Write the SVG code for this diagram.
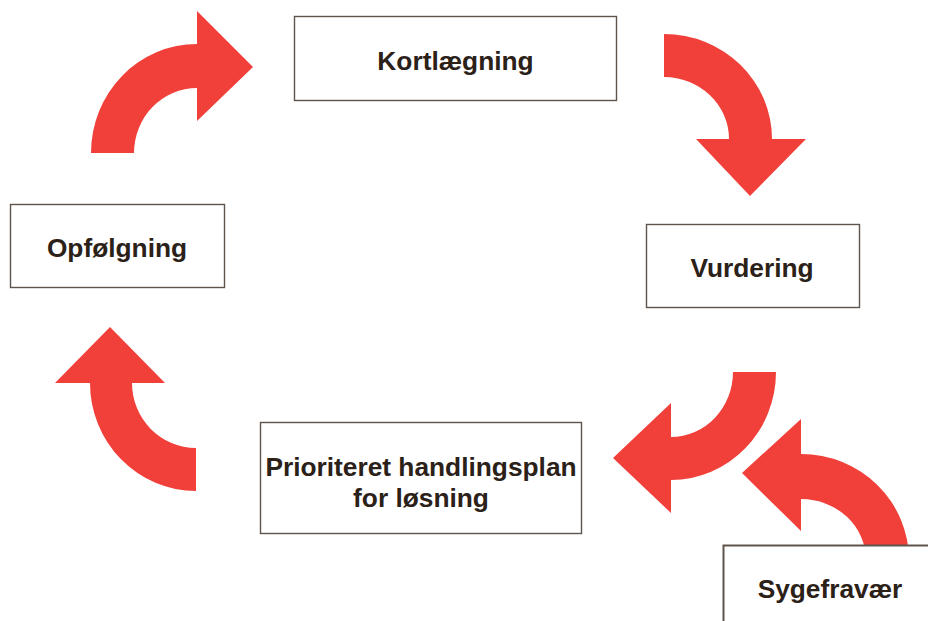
<svg xmlns="http://www.w3.org/2000/svg" width="928" height="621" viewBox="0 0 928 621">
<style>
.box{fill:#ffffff;stroke:#5e544c;stroke-width:1.4}
.arr{fill:#f13f3a}
.lbl{font-family:"Liberation Sans",Arial,sans-serif;font-weight:bold;font-size:26.3px;fill:#2b2118;text-anchor:middle}
</style>
<rect width="928" height="621" fill="#ffffff"/>
<g id="connectors">
<path class="arr" d="M91,153 A106,109 0 0 1 197,44 L197,11 L253,67 L197,121 L197,88 A63,65 0 0 0 134,153 Z"/>
<path class="arr" d="M664,34 A108,105 0 0 1 772,139 L806,139 L750,196 L696,139 L729,139 A65,62 0 0 0 664,77 Z"/>
<path class="arr" d="M776,372 A105,108 0 0 1 671,480 L671,513 L613,458 L671,403 L671,437 A62,65 0 0 0 733,372 Z"/>
<path class="arr" d="M196,491 A106,108 0 0 1 90,383 L55,383 L110,327 L165,383 L132,383 A64,65 0 0 0 196,448 Z"/>
<path class="arr" d="M909,560 A108,106 0 0 0 801,454 L801,419 L742,473 L801,531 L801,499 A65,61 0 0 1 866,560 Z"/>
</g>
<g id="kortlaegning">
<rect class="box" x="294.5" y="16.5" width="322" height="84"/>
<text class="lbl" x="455.5" y="70">Kortlægning</text>
</g>
<g id="vurdering">
<rect class="box" x="646.5" y="224.5" width="213" height="83"/>
<text class="lbl" x="752" y="277">Vurdering</text>
</g>
<g id="handlingsplan">
<rect class="box" x="260.5" y="422.5" width="321" height="111"/>
<text class="lbl" x="421" y="476">Prioriteret handlingsplan</text>
<text class="lbl" x="421" y="507">for løsning</text>
</g>
<g id="opfoelgning">
<rect class="box" x="10.5" y="204.5" width="214" height="83"/>
<text class="lbl" x="117" y="257">Opfølgning</text>
</g>
<g id="sygefravaer">
<rect class="box" x="723.5" y="545.5" width="220" height="90" style="stroke-width:2"/>
<text class="lbl" x="830" y="598">Sygefravær</text>
</g>
</svg>
